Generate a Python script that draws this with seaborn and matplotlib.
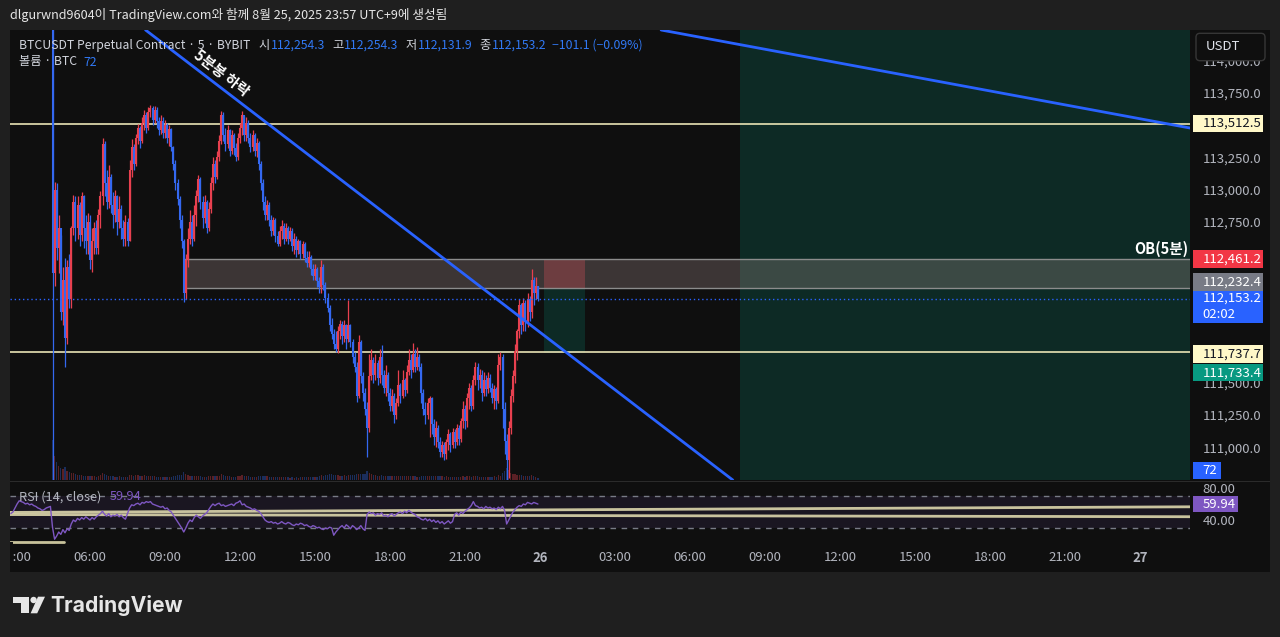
#%%
import numpy as np
import pandas as pd
import matplotlib
matplotlib.use("Agg")
import matplotlib.pyplot as plt
import matplotlib.dates as mdates
from matplotlib.patches import Rectangle, Polygon, Circle, FancyBboxPatch
from matplotlib.transforms import IdentityTransform
import seaborn as sns

# %% data (BTCUSDT perp, 5m, Bybit)
bar_start = "2025-08-25 04:30"
first_open = 114450

closes = [
    112350, 113000, 112550, 112700, 112050, 112300, 111850, 112400, 112150, 112700, 112900, 112700,
    112880, 112650, 112950, 112700, 112600, 112750, 112450, 112600, 112700, 112550, 112800, 112950,
    113350, 113050, 112900, 113100, 112880, 112800, 112950, 112750, 112850, 112700, 112620, 112750,
    112600, 113150, 113330, 113200, 113400, 113480, 113380, 113520, 113580, 113480, 113600, 113630,
    113540, 113620, 113530, 113460, 113530, 113440, 113500, 113400, 113470, 113330, 113200, 113050,
    112930, 112760, 112600, 112200, 112450, 112620, 112750, 112620, 112800, 112950, 113080, 112900,
    112780, 112900, 112700, 112850, 113050, 113200, 113100, 113250, 113380, 113580, 113420, 113350,
    113460, 113300, 113420, 113320, 113250, 113400, 113480, 113580, 113420, 113520, 113400, 113330,
    113420, 113300, 113360, 113200, 113050, 112900, 112800, 112880, 112760, 112680, 112760, 112640,
    112580, 112680, 112720, 112620, 112700, 112620, 112680, 112560, 112620, 112530, 112600, 112500,
    112580, 112470, 112430, 112480, 112380, 112330, 112380, 112290, 112240, 112400, 112260, 112160,
    112080, 111950, 111880, 111800, 111760, 111900, 111960, 111860, 111950, 111840, 111950, 111820,
    111700, 111620, 111400, 111820, 111550, 111420, 111300, 111150, 111550, 111680, 111560, 111650,
    111540, 111700, 111560, 111460, 111560, 111420, 111320, 111400, 111250, 111340, 111480, 111400,
    111520, 111440, 111580, 111680, 111600, 111720, 111620, 111700, 111620, 111420, 111300, 111250,
    111340, 111380, 111180, 111080, 111150, 111040, 110960, 111020, 110950, 111040, 111100, 111020,
    111120, 111040, 111150, 111060, 111200, 111300, 111200, 111380, 111460, 111320, 111520, 111620,
    111520, 111560, 111420, 111520, 111450, 111540, 111460, 111380, 111450, 111360, 111640, 111700,
    111300, 111050, 110900, 111150, 111400, 111550, 111750, 111900, 112100, 111950, 112120, 111980,
    112150, 112050, 112300, 112200, 112254.3, 112153.2,
]

highs = [
    114600, 113060, 113050, 112800, 112650, 112400, 112470, 112450, 112500, 112720, 112960, 112950,
    112950, 112900, 112980, 112960, 112800, 112820, 112800, 112700, 112750, 112760, 112850, 112990,
    113400, 113380, 113150, 113190, 113120, 112980, 113000, 112960, 112950, 112880, 112760, 112800,
    112780, 113230, 113390, 113350, 113430, 113510, 113490, 113560, 113620, 113600, 113640, 113660,
    113650, 113650, 113640, 113560, 113580, 113560, 113540, 113520, 113500, 113480, 113340, 113230,
    113080, 112950, 112800, 112620, 112500, 112700, 112840, 112800, 112880, 113000, 113110, 113100,
    112950, 112960, 112920, 112900, 113100, 113250, 113230, 113300, 113420, 113610, 113600, 113480,
    113500, 113470, 113460, 113440, 113360, 113440, 113520, 113610, 113570, 113560, 113540, 113440,
    113460, 113440, 113400, 113380, 113220, 113080, 112950, 112920, 112900, 112800, 112790, 112780,
    112680, 112720, 112760, 112740, 112740, 112720, 112710, 112700, 112660, 112640, 112620, 112610,
    112600, 112590, 112520, 112520, 112490, 112420, 112420, 112400, 112320, 112450, 112420, 112280,
    112200, 112100, 112000, 111920, 111900, 111940, 111990, 111980, 111990, 111960, 112140, 111960,
    111840, 111740, 111660, 111870, 111830, 111580, 111460, 111350, 111720, 111760, 111700, 111720,
    111680, 111760, 111790, 111600, 111640, 111580, 111460, 111450, 111420, 111380, 111600, 111500,
    111600, 111540, 111640, 111760, 111720, 111810, 111760, 111780, 111720, 111650, 111450, 111350,
    111380, 111400, 111390, 111220, 111200, 111170, 111080, 111050, 111040, 111060, 111140, 111120,
    111150, 111140, 111180, 111170, 111230, 111360, 111330, 111420, 111500, 111480, 111560, 111660,
    111650, 111610, 111600, 111580, 111560, 111580, 111570, 111500, 111480, 111470, 111720, 111740,
    111720, 111350, 111100, 111200, 111450, 111600, 111800, 111920, 112150, 112120, 112160, 112140,
    112200, 112170, 112380, 112320, 112320, 112254.3,
]

lows = [
    110700, 112250, 112450, 112350, 111990, 111950, 111620, 111800, 112080, 112080, 112650, 112600,
    112620, 112560, 112600, 112550, 112500, 112500, 112380, 112360, 112500, 112500, 112500, 112700,
    112880, 112950, 112850, 112860, 112820, 112700, 112750, 112650, 112700, 112620, 112560, 112560,
    112560, 112600, 113100, 113150, 113180, 113350, 113320, 113360, 113460, 113440, 113460, 113560,
    113500, 113520, 113480, 113420, 113430, 113400, 113400, 113360, 113340, 113300, 113150, 113000,
    112880, 112700, 112550, 112130, 112150, 112400, 112580, 112560, 112600, 112720, 112900, 112850,
    112700, 112740, 112660, 112680, 112820, 113000, 113050, 113080, 113220, 113350, 113380, 113300,
    113320, 113260, 113280, 113270, 113220, 113230, 113360, 113420, 113380, 113380, 113360, 113290,
    113300, 113260, 113250, 113150, 113000, 112840, 112760, 112760, 112720, 112640, 112650, 112590,
    112560, 112560, 112620, 112580, 112600, 112580, 112600, 112520, 112500, 112480, 112500, 112460,
    112470, 112440, 112400, 112400, 112340, 112300, 112300, 112240, 112200, 112200, 112220, 112120,
    112050, 111900, 111840, 111760, 111740, 111730, 111840, 111800, 111820, 111760, 111820, 111780,
    111650, 111580, 111350, 111380, 111500, 111360, 111250, 110920, 111120, 111520, 111500, 111520,
    111480, 111500, 111480, 111420, 111400, 111360, 111280, 111280, 111190, 111220, 111320, 111340,
    111380, 111400, 111420, 111560, 111540, 111580, 111580, 111600, 111590, 111340, 111250, 111180,
    111220, 111080, 111100, 111020, 111000, 110990, 110920, 110920, 110900, 110910, 110980, 110960,
    110990, 110990, 111020, 111020, 111040, 111150, 111140, 111160, 111300, 111280, 111300, 111480,
    111440, 111460, 111360, 111400, 111400, 111420, 111430, 111340, 111300, 111300, 111340, 111600,
    111150, 110950, 110740, 110760, 111100, 111350, 111500, 111680, 111850, 111880, 111900, 111900,
    111930, 111980, 112000, 112100, 112150, 112131.9,
]

volumes = [
    1800, 1100, 800, 650, 550, 480, 600, 420, 360, 320, 300, 260,
    230, 240, 210, 190, 180, 200, 180, 170, 160, 150, 190, 210,
    330, 270, 210, 190, 180, 160, 150, 140, 160, 150, 140, 130,
    150, 220, 240, 200, 210, 220, 190, 200, 210, 180, 190, 200,
    170, 160, 150, 140, 130, 150, 140, 130, 140, 150, 170, 190,
    210, 220, 240, 340, 270, 230, 200, 180, 170, 180, 190, 160,
    150, 140, 150, 160, 180, 200, 170, 180, 190, 270, 230, 190,
    170, 160, 150, 140, 150, 160, 170, 210, 190, 170, 160, 150,
    140, 150, 140, 170, 190, 200, 170, 160, 150, 140, 130, 140,
    130, 120, 130, 120, 130, 120, 110, 120, 110, 120, 110, 130,
    120, 130, 140, 130, 150, 140, 130, 150, 160, 230, 190, 210,
    240, 270, 250, 230, 210, 220, 200, 190, 210, 180, 240, 210,
    220, 230, 260, 280, 250, 260, 290, 390, 310, 250, 230, 210,
    190, 200, 210, 190, 180, 170, 180, 170, 190, 180, 200, 170,
    180, 160, 170, 180, 160, 170, 160, 150, 140, 190, 200, 180,
    170, 180, 190, 200, 180, 170, 180, 160, 150, 160, 150, 140,
    150, 140, 130, 140, 150, 170, 150, 160, 170, 150, 160, 180,
    160, 150, 140, 150, 140, 130, 140, 150, 160, 150, 210, 190,
    310, 390, 530, 430, 310, 270, 260, 240, 230, 210, 200, 190,
    180, 170, 220, 160, 140, 72,
]

rsi_start = "2025-08-25 02:50"
rsi = [
    48, 50, 55, 60, 64, 63, 62, 60, 61, 59, 60, 58,
    57, 55, 54, 52, 53, 55, 56, 57, 31, 16, 20, 25,
    22, 28, 24, 29, 27, 35, 40, 38, 42, 40, 43, 41,
    44, 42, 40, 43, 41, 44, 46, 48, 51, 47, 45, 48,
    44, 46, 45, 47, 44, 46, 43, 41, 48, 55, 59, 58,
    60, 61, 59, 62, 61, 63, 62, 63, 60, 59, 58, 57,
    56, 57, 54, 55, 52, 50, 46, 42, 38, 34, 30, 25,
    30, 36, 40, 38, 43, 46, 44, 42, 45, 47, 49, 53,
    57, 60, 58, 60, 61, 58, 59, 57, 58, 59, 60, 58,
    61, 62, 64, 59, 60, 57, 56, 55, 53, 54, 52, 51,
    48, 44, 40, 38, 37, 38, 36, 37, 35, 36, 38, 36,
    35, 37, 36, 34, 33, 35, 34, 36, 35, 33, 34, 32,
    31, 33, 32, 30, 31, 29, 28, 30, 29, 31, 30, 21,
    25, 28, 31, 33, 30, 34, 32, 29, 33, 31, 28, 30,
    33, 29, 27, 47, 50, 48, 49, 46, 48, 47, 49, 45,
    46, 44, 47, 48, 45, 47, 49, 50, 48, 51, 49, 52,
    50, 48, 47, 44, 43, 41, 40, 42, 39, 41, 38, 40,
    37, 39, 36, 38, 35, 37, 39, 36, 38, 47, 49, 46,
    50, 48, 51, 53, 55, 58, 63, 58, 57, 55, 56, 54,
    57, 55, 56, 54, 55, 53, 56, 54, 57, 52, 35, 40,
    45, 50, 53, 56, 58, 57, 60, 59, 62, 61, 60, 62,
    61, 59.94,
]

# drawings on the chart
levels = [113512.5, 111737.7]
last_price = 112153.2
ob_top, ob_bottom, ob_start = 112461.2, 112232.4, "2025-08-25 09:43"
pos_start, pos_end = "2025-08-26 00:10", "2025-08-26 01:48"
pos_stop, pos_entry, pos_target = 112461.2, 112232.4, 111733.4
zone_start = "2025-08-26 08:00"
trend1 = [("2025-08-25 13:36", 113439), ("2025-08-25 23:12", 112011)]
trend2 = [("2025-08-26 04:24", 114255), ("2025-08-27 02:00", 113478)]
rsi_trend_hi = [("2025-08-25 02:48", 49.5), ("2025-08-27 02:00", 56.5)]
rsi_trend_lo = [("2025-08-25 02:48", 46.8), ("2025-08-27 02:00", 44.1)]
rsi_short = [("2025-08-25 02:48", 13), ("2025-08-25 04:58", 13)]

x_from, x_to = "2025-08-25 02:48", "2025-08-27 02:00"
price_lo, price_hi = 110745, 114239
rsi_lo, rsi_hi = 8.75, 87.5
# axis labels that TradingView leaves visible (others sit under the price tags)
price_ticks = [111000, 111250, 111500, 112500, 112750, 113000, 113250, 113750, 114000]

# %% style
W, H = 1280, 637
BG, FRAME = "#0f0f0f", "#1f1f1f"
RED, BLUE = "#e8404f", "#3468f0"
TXT, AXT = "#d1d4dc", "#b2b5be"
BEIGE = "#e9e3b5"
PURPLE = "#7e57c2"

sns.set_theme(style="dark", rc={"axes.facecolor": BG, "figure.facecolor": FRAME,
                                "axes.grid": False, "axes.edgecolor": BG})
plt.rcParams["font.family"] = ["Noto Sans CJK KR", "DejaVu Sans"]
plt.rcParams["axes.unicode_minus"] = False


def tnum(s):
    return mdates.date2num(pd.Timestamp(s))


def px_rect(x0, y0, x1, y1):
    return [x0 / W, 1 - y1 / H, (x1 - x0) / W, (y1 - y0) / H]


ID = IdentityTransform()
fig = plt.figure(figsize=(W / 100, H / 100), dpi=100)
fig.add_artist(Rectangle((10, H - 572), 1260, 542, transform=ID,
                         facecolor=BG, edgecolor="none", zorder=-5))

ax_vol = fig.add_axes(px_rect(10, 30, 1190, 480))
ax = fig.add_axes(px_rect(10, 30, 1190, 480), sharex=ax_vol)
ax_rsi = fig.add_axes(px_rect(10, 482, 1190, 545), sharex=ax)
ax_vol.set_zorder(0)
ax.set_zorder(1)
ax.set_facecolor("none")
ax_vol.set_facecolor(BG)

# %% candles + volume
bx = mdates.date2num(pd.date_range(bar_start, periods=len(closes), freq="5min"))
c = np.array(closes, float)
o = np.concatenate([[first_open], c[:-1]])
col = np.where(c >= o, RED, BLUE)

ax.vlines(bx, lows, highs, colors=col, lw=0.9, zorder=3)
ax.vlines(bx, np.minimum(o, c), np.maximum(o, c), colors=col, lw=1.5, zorder=3)

ax_vol.bar(bx, volumes, width=5 / 1440 * 0.6, color=col, alpha=0.35, lw=0)
ax_vol.set_ylim(0, max(volumes) * 11.25)
ax_vol.axis("off")

# zones / boxes
ax.axvspan(tnum(zone_start), tnum(x_to), color="#089981", alpha=0.2, lw=0, zorder=1.1)
ax.fill_between([tnum(pos_start), tnum(pos_end)], pos_entry, pos_stop,
                color="#f23645", alpha=0.3, lw=0, zorder=1.2)
ax.fill_between([tnum(pos_start), tnum(pos_end)], pos_target, pos_entry,
                color="#089981", alpha=0.2, lw=0, zorder=1.2)
ax.fill_between([tnum(ob_start), tnum(x_to)], ob_bottom, ob_top,
                color="#b39b98", alpha=0.28, lw=0, zorder=1.5)
ax.hlines([ob_bottom, ob_top], tnum(ob_start), tnum(x_to), colors="#8c8c8c", lw=1, zorder=1.6)

for lv in levels:
    ax.axhline(lv, color=BEIGE, lw=1.2, zorder=2)
ax.axhline(last_price, color="#2962ff", lw=1, ls=(0, (1, 2)), zorder=5)

for (t1, p1), (t2, p2) in [trend1, trend2]:
    ax.axline((tnum(t1), p1), (tnum(t2), p2), color="#2962ff", lw=2, zorder=4)

ax.set_xlim(tnum(x_from), tnum(x_to))
ax.set_ylim(price_lo, price_hi)

# %% RSI pane
rx = mdates.date2num(pd.date_range(rsi_start, periods=len(rsi), freq="5min"))
ax_rsi.axhspan(30, 70, color=PURPLE, alpha=0.1, lw=0)
for lv in (70, 30):
    ax_rsi.axhline(lv, color="#787b86", lw=1, ls=(0, (4, 4)))
for (t1, v1), (t2, v2) in [rsi_trend_hi, rsi_trend_lo, rsi_short]:
    ax_rsi.plot([tnum(t1), tnum(t2)], [v1, v2], color=BEIGE, lw=2, alpha=0.85)
sns.lineplot(x=rx, y=rsi, ax=ax_rsi, color=PURPLE, lw=1)
ax_rsi.set_ylim(rsi_lo, rsi_hi)
ax_rsi.set_xlabel("")
ax_rsi.set_ylabel("")

# %% axes / ticks
for a in (ax, ax_rsi):
    for s in a.spines.values():
        s.set_visible(False)

ticks = pd.date_range("2025-08-25 03:00", "2025-08-27 00:00", freq="3h")
tick_labels = [str(t.day) if t.hour == 0 else t.strftime("%H:%M") for t in ticks]
ax_rsi.set_xticks(mdates.date2num(ticks))
ax_rsi.set_xticklabels(tick_labels)
for lab, t in zip(ax_rsi.get_xticklabels(), ticks):
    if t.hour == 0:
        lab.set_fontweight("bold")
        lab.set_color("#e0e3eb")
ax_rsi.tick_params(axis="x", length=0, pad=4.5, labelsize=9.5, labelcolor=AXT)
ax.tick_params(axis="x", length=0, labelbottom=False)

ax.yaxis.tick_right()
ax.set_yticks(price_ticks)
ax.set_yticklabels([f"{v:,.1f}" for v in price_ticks])
ax.tick_params(axis="y", length=0, pad=9, labelsize=9.5, labelcolor=AXT)

ax_rsi.yaxis.tick_right()
ax_rsi.set_yticks([40, 80])
ax_rsi.set_yticklabels(["40.00", "80.00"])
ax_rsi.tick_params(axis="y", length=0, pad=9, labelsize=9.5, labelcolor=AXT)

# pane separator
fig.add_artist(Rectangle((10, H - 481.5), 1260, 1, transform=ID, facecolor="#2b2b2b",
                         edgecolor="none", zorder=6))
# clip first time label at chart's left edge
fig.add_artist(Rectangle((0, H - 572), 10, 30, transform=ID, facecolor=FRAME,
                         edgecolor="none", zorder=30))
fig.add_artist(Rectangle((10, H - 572), 2.5, 30, transform=ID, facecolor=BG,
                         edgecolor="none", zorder=30))


# %% price tags on the right axis
def ydisp(a, v):
    return a.transData.transform((0, v))[1]


def tag(yc, label, face, tc, w=70, h=17.5, x0=1193):
    fig.add_artist(Rectangle((x0, yc - h / 2), w, h, transform=ID, facecolor=face,
                             edgecolor="none", zorder=20))
    fig.text(x0 + 9.5, yc, label, transform=ID, color=tc, fontsize=9.5,
             va="center", ha="left", zorder=21)


tag(ydisp(ax, levels[0]), f"{levels[0]:,.1f}", "#fff8c8", "#131722")
tag(ydisp(ax, pos_stop), f"{pos_stop:,.1f}", "#f23645", "white")
tag(ydisp(ax, pos_entry) + 6.5, f"{pos_entry:,.1f}", "#787b86", "white")
tag(ydisp(ax, levels[1]) - 2, f"{levels[1]:,.1f}", "#fff8c8", "#131722")
tag(ydisp(ax, pos_target) - 20, f"{pos_target:,.1f}", "#089981", "white")

# last price + countdown
yl = ydisp(ax, last_price)
fig.add_artist(Rectangle((1193, yl - 24.5), 70, 32.5, transform=ID, facecolor="#2962ff",
                         edgecolor="none", zorder=20))
fig.text(1202.5, yl, f"{last_price:,.1f}", transform=ID, color="white", fontsize=9.5,
         va="center", ha="left", zorder=21)
fig.text(1202.5, yl - 16, "02:02", transform=ID, color="white", fontsize=9.5,
         va="center", ha="left", zorder=21)

# volume + rsi value tags
yv = max(ax_vol.transData.transform((0, volumes[-1]))[1], H - 480 + 9.5)
tag(yv, f"{volumes[-1]}", "#2962ff", "white", w=28)
tag(ydisp(ax_rsi, rsi[-1]), f"{rsi[-1]:.2f}", PURPLE, "white", w=45, h=16.5)

# currency box
fig.add_artist(FancyBboxPatch((1196, H - 60.7), 69, 27.4, boxstyle="round,pad=0,rounding_size=4",
                              transform=ID, facecolor=BG, edgecolor="#363636", lw=1, zorder=22))
fig.text(1206, H - 47, "USDT", transform=ID, color="#e0e3eb", fontsize=9.5,
         va="center", ha="left", zorder=23)

# %% texts
renderer = fig.canvas.get_renderer()


def ftext(x, y_img, s, **kw):
    return fig.text(x, H - y_img, s, transform=ID, **kw)


def seq(x, y_img, parts, size=8.8):
    for s, colr, gap in parts:
        t = ftext(x, y_img, s, color=colr, fontsize=size, va="center", ha="left", zorder=15)
        x += t.get_window_extent(renderer).width + gap


ftext(10, 15, "dlgurwnd9604이 TradingView.com와 함께 8월 25, 2025 23:57 UTC+9에 생성됨",
      color="#e6e6e6", fontsize=9.1, va="center", ha="left")

VAL = "#3179f5"
seq(19, 45, [("BTCUSDT Perpetual Contract · 5 · BYBIT", TXT, 8),
             ("시", TXT, 1), (f"{o[-1]:,.1f}", VAL, 7),
             ("고", TXT, 1), (f"{highs[-1]:,.1f}", VAL, 7),
             ("저", TXT, 1), (f"{lows[-1]:,.1f}", VAL, 7),
             ("종", TXT, 1), (f"{closes[-1]:,.1f}", VAL, 6),
             ("−101.1 (−0.09%)", VAL, 0)])
seq(19, 62, [("볼륨 · BTC", TXT, 6), (f"{volumes[-1]}", VAL, 0)])
seq(19, 497, [("RSI (14, close)", AXT, 8), (f"{rsi[-1]:.2f}", PURPLE, 0)], size=9.2)

ftext(222, 73, "5분봉 하락", color="white", fontsize=10.5, fontweight="bold",
      rotation=-37.5, rotation_mode="anchor", ha="center", va="center")
ftext(1188, 249, "OB(5분)", color="white", fontsize=10.5, fontweight="bold",
      ha="right", va="center", zorder=15)

# TradingView logo
LOGO = "#e6e6e6"
fig.add_artist(Polygon([(12.7, H - 596.7), (29.3, H - 596.7), (29.3, H - 613.3),
                        (20.7, H - 613.3), (20.7, H - 603.3), (12.7, H - 603.3)],
                       closed=True, transform=ID, facecolor=LOGO, edgecolor="none"))
fig.add_artist(Circle((33.6, H - 600), 3.2, transform=ID, facecolor=LOGO, edgecolor="none"))
fig.add_artist(Polygon([(38.0, H - 596.7), (45.0, H - 596.7), (37.2, H - 613.3), (30.6, H - 613.3)],
                       closed=True, transform=ID, facecolor=LOGO, edgecolor="none"))
ftext(50, 605, "TradingView", color=LOGO, fontsize=15.2, fontweight="bold",
      family=["Inter", "DejaVu Sans"], ha="left", va="center")

plt.savefig("out.png", dpi=100, facecolor=FRAME)
